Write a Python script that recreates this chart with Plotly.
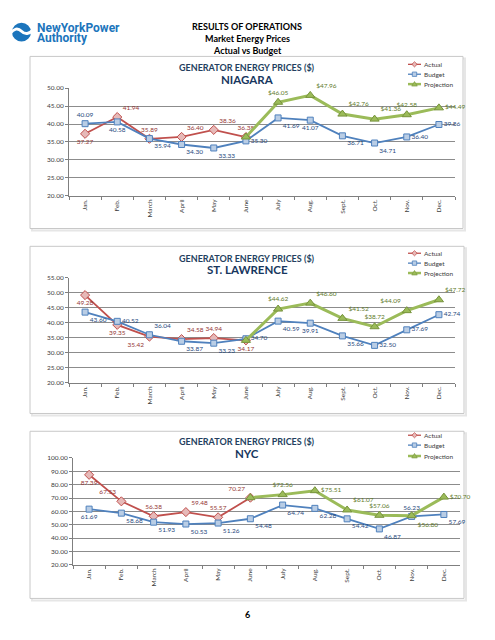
import plotly.graph_objects as go

W, H = 495, 640

months = ["Jan.", "Feb.", "March", "April", "May", "June", "July", "Aug.", "Sept.", "Oct.", "Nov.", "Dec."]

# NIAGARA
niagara_actual = [37.27, 41.94, 35.89, 36.40, 38.36, 36.38]
niagara_budget = [40.09, 40.58, 35.94, 34.30, 33.33, 35.30, 41.69, 41.07, 36.71, 34.71, 36.40, 39.86]
niagara_proj = [36.38, 46.05, 47.96, 42.76, 41.36, 42.58, 44.49]  # June..Dec

# ST. LAWRENCE
stl_actual = [49.28, 39.35, 35.42, 34.58, 34.94, 34.17]
stl_budget = [43.60, 40.52, 36.04, 33.87, 33.23, 34.70, 40.59, 39.91, 35.66, 32.50, 37.69, 42.74]
stl_proj = [34.17, 44.62, 46.60, 41.52, 38.72, 44.09, 47.72]

# NYC
nyc_actual = [87.39, 67.53, 56.38, 59.48, 55.57, 70.27]
nyc_budget = [61.69, 58.68, 51.93, 50.53, 51.26, 54.48, 64.74, 62.28, 54.42, 46.87, 56.23, 57.69]
nyc_proj = [70.27, 72.56, 75.51, 61.07, 57.06, 56.80, 70.70]

series_names = ["Actual", "Budget", "Projection"]


def px(x):
    return x / W


def py(y):
    return 1 - y / H


FONT = "Lato"
RED, RED_FILL, RED_TXT = "#C0504D", "#E6B9B8", "#953735"
BLUE, BLUE_FILL, BLUE_TXT = "#4F81BD", "#B9CDE5", "#1F497D"
GREEN, GREEN_TXT = "#9BBB59", "#5E7A2A"
LBL = 6.5

charts = [
    dict(name="NIAGARA", actual=niagara_actual, budget=niagara_budget, proj=niagara_proj,
         yr=[20, 50], dt=5, plot=(69, 455, 85, 194), box=(30, 463, 53, 227), t1=64, t2=76,
         legy=(61, 71, 81),
         apos=["bottom center", "top right", "top center", "top right", "top right", "top center"],
         bpos=["top center", "bottom center", "bottom right", "bottom right", "bottom right", "middle right",
               "bottom right", "bottom center", "bottom right", "bottom right", "middle right", "middle right"],
         ppos=["top center", "top center", "top right", "top right", "top right", "top center", "middle right"]),
    dict(name="ST. LAWRENCE", actual=stl_actual, budget=stl_budget, proj=stl_proj,
         yr=[20, 55], dt=5, plot=(69, 455, 277, 383), box=(30, 464, 245, 414), t1=257, t2=268,
         legy=(252, 262, 272),
         apos=["bottom center", "bottom center", "bottom left", "top right", "top center", "bottom center"],
         bpos=["bottom right", "middle right", "top right", "bottom right", "bottom right", "middle right",
               "bottom right", "bottom center", "bottom right", "middle right", "middle right", "middle right"],
         ppos=["top center", "top center", "top right", "top right", "top center", "top left", "top right"]),
    dict(name="NYC", actual=nyc_actual, budget=nyc_budget, proj=nyc_proj,
         yr=[20, 100], dt=10, plot=(73, 460, 459, 567), box=(30, 464, 432, 601), t1=442, t2=454,
         legy=(436, 446, 457),
         apos=["bottom center", "top left", "top center", "top right", "top center", "top left"],
         bpos=["bottom center", "bottom right", "bottom right", "bottom right", "bottom right", "bottom right",
               "bottom right", "bottom right", "bottom right", "bottom right", "top center", "bottom right"],
         ppos=["top center", "top center", "middle right", "top right", "top center", "bottom right", "middle right"]),
]

fig = go.Figure()
shapes = []
annotations = []
layout_axes = {}

for i, c in enumerate(charts):
    n = i + 1
    xa = "x" if n == 1 else f"x{n}"
    ya = "y" if n == 1 else f"y{n}"

    fig.add_trace(go.Scatter(
        x=months[:6], y=c["actual"], name="Actual", mode="lines+markers+text",
        text=[f"{v:.2f}" for v in c["actual"]], textposition=c["apos"],
        textfont=dict(size=LBL, color=RED_TXT, family=FONT),
        line=dict(color=RED, width=1.8),
        marker=dict(symbol="diamond", size=7, color=RED_FILL, line=dict(color=RED, width=1)),
        xaxis=xa, yaxis=ya, showlegend=False, cliponaxis=False))
    fig.add_trace(go.Scatter(
        x=months, y=c["budget"], name="Budget", mode="lines+markers+text",
        text=[f"{v:.2f}" for v in c["budget"]], textposition=c["bpos"],
        textfont=dict(size=LBL, color=BLUE_TXT, family=FONT),
        line=dict(color=BLUE, width=1.8),
        marker=dict(symbol="square", size=6, color=BLUE_FILL, line=dict(color=BLUE, width=1)),
        xaxis=xa, yaxis=ya, showlegend=False, cliponaxis=False))
    fig.add_trace(go.Scatter(
        x=months[5:], y=c["proj"], name="Projection", mode="lines+markers+text",
        text=[""] + [f"${v:.2f}" for v in c["proj"][1:]], textposition=c["ppos"],
        textfont=dict(size=LBL, color=GREEN_TXT, family=FONT),
        line=dict(color=GREEN, width=3),
        marker=dict(symbol="triangle-up", size=8, color=GREEN, line=dict(color="#77933C", width=1)),
        xaxis=xa, yaxis=ya, showlegend=False, cliponaxis=False))

    x0, x1, y0, y1 = c["plot"]
    layout_axes["xaxis" if n == 1 else f"xaxis{n}"] = dict(
        domain=[px(x0), px(x1)], anchor=ya, type="category", categoryorder="array",
        categoryarray=months, range=[-0.5, 11.5], tickangle=-90, tickson="boundaries",
        ticks="outside", ticklen=3, tickcolor="#7F7F7F", showline=True, linecolor="#7F7F7F",
        linewidth=1, showgrid=False, tickfont=dict(size=6.5, color="#404040", family=FONT),
        fixedrange=True)
    layout_axes["yaxis" if n == 1 else f"yaxis{n}"] = dict(
        domain=[py(y1), py(y0)], anchor=xa, range=c["yr"], dtick=c["dt"], tickformat=".2f",
        showgrid=True, gridcolor="#8C8C8C", gridwidth=1, showline=True, linecolor="#7F7F7F",
        ticks="outside", ticklen=3, tickcolor="#7F7F7F", zeroline=False,
        tickfont=dict(size=6.5, color="#404040", family=FONT), fixedrange=True)

    bx0, bx1, by0, by1 = c["box"]
    shapes.append(dict(type="rect", xref="paper", yref="paper", x0=px(bx0 + 2), x1=px(bx1 + 2),
                       y0=py(by1 + 2), y1=py(by0 + 2), line=dict(color="#E6E6E6", width=2),
                       fillcolor="rgba(0,0,0,0)", layer="below"))
    shapes.append(dict(type="rect", xref="paper", yref="paper", x0=px(bx0), x1=px(bx1),
                       y0=py(by1), y1=py(by0), line=dict(color="#C8C8C8", width=1),
                       fillcolor="white", layer="below"))

    annotations.append(dict(text="<b>GENERATOR ENERGY PRICES ($)</b>", x=px(247), y=py(c["t1"]),
                            xref="paper", yref="paper", showarrow=False, xanchor="center", yanchor="middle",
                            font=dict(size=9, color="#243F60", family=FONT)))
    annotations.append(dict(text=f"<b>{c['name']}</b>", x=px(247), y=py(c["t2"]),
                            xref="paper", yref="paper", showarrow=False, xanchor="center", yanchor="middle",
                            font=dict(size=11.5, color="#17375E", family=FONT)))

    # legend (manual, compact like the reference)
    lx0, lx1, lxc, ltx = 408, 421, 414.5, 422
    for k, (nm, col, ly) in enumerate(zip(series_names, [RED, BLUE, GREEN], c["legy"])):
        shapes.append(dict(type="line", xref="paper", yref="paper", x0=px(lx0), x1=px(lx1),
                           y0=py(ly), y1=py(ly), line=dict(color=col, width=2.5 if k == 2 else 1.3)))
        if k == 0:
            path = (f"M {px(lxc)},{py(ly-2.6)} L {px(lxc+2.6)},{py(ly)} L {px(lxc)},{py(ly+2.6)} "
                    f"L {px(lxc-2.6)},{py(ly)} Z")
            shapes.append(dict(type="path", xref="paper", yref="paper", path=path,
                               fillcolor=RED_FILL, line=dict(color=RED, width=0.8)))
        elif k == 1:
            shapes.append(dict(type="rect", xref="paper", yref="paper", x0=px(lxc-2.2), x1=px(lxc+2.2),
                               y0=py(ly+2.2), y1=py(ly-2.2), fillcolor=BLUE_FILL,
                               line=dict(color=BLUE, width=0.8)))
        else:
            path = (f"M {px(lxc)},{py(ly-2.6)} L {px(lxc+2.8)},{py(ly+2)} L {px(lxc-2.8)},{py(ly+2)} Z")
            shapes.append(dict(type="path", xref="paper", yref="paper", path=path,
                               fillcolor=GREEN, line=dict(color="#77933C", width=0.6)))
        annotations.append(dict(text=nm, x=px(ltx), y=py(ly), xref="paper", yref="paper",
                                showarrow=False, xanchor="left", yanchor="middle",
                                font=dict(size=6.5, color="#404040", family=FONT)))

# Header text
for txt, yy in [("RESULTS OF OPERATIONS", 23), ("Market Energy Prices", 35), ("Actual vs Budget", 47)]:
    annotations.append(dict(text=f"<b>{txt}</b>", x=px(247), y=py(yy), xref="paper", yref="paper",
                            showarrow=False, xanchor="center", yanchor="middle",
                            font=dict(size=9, color="#000000", family=FONT)))

# Logo
LOGO = "#1C75BC"
shapes.append(dict(type="circle", xref="paper", yref="paper", x0=px(12), x1=px(31), y0=py(38), y1=py(19),
                   fillcolor=LOGO, line=dict(color=LOGO, width=0)))
shapes.append(dict(type="path", xref="paper", yref="paper",
                   path=f"M {px(10)},{py(30)} Q {px(16)},{py(22)} {px(21.5)},{py(27.5)} Q {px(27)},{py(33)} {px(33)},{py(26)}",
                   line=dict(color="white", width=3)))
annotations.append(dict(text="<b>NewYorkPower</b>", x=px(36), y=py(24.5), xref="paper", yref="paper",
                        showarrow=False, xanchor="left", yanchor="middle", borderpad=0,
                        font=dict(size=12, color=LOGO, family="Roboto")))
annotations.append(dict(text="<b>Authority</b>", x=px(36), y=py(34.5), xref="paper", yref="paper",
                        showarrow=False, xanchor="left", yanchor="middle", borderpad=0,
                        font=dict(size=12, color=LOGO, family="Roboto")))

# Page number
annotations.append(dict(text="<b>6</b>", x=px(247), y=py(617), xref="paper", yref="paper",
                        showarrow=False, xanchor="center", yanchor="middle",
                        font=dict(size=9, color="#000000", family=FONT)))

fig.update_layout(
    width=W, height=H, margin=dict(l=0, r=0, t=0, b=0),
    paper_bgcolor="white", plot_bgcolor="rgba(0,0,0,0)",
    shapes=shapes, annotations=annotations, showlegend=False,
    font=dict(family=FONT),
    **layout_axes,
)

fig.write_html("out.html", config={"displayModeBar": False},
               post_script="document.body.style.margin='0';document.body.style.overflow='hidden';")
